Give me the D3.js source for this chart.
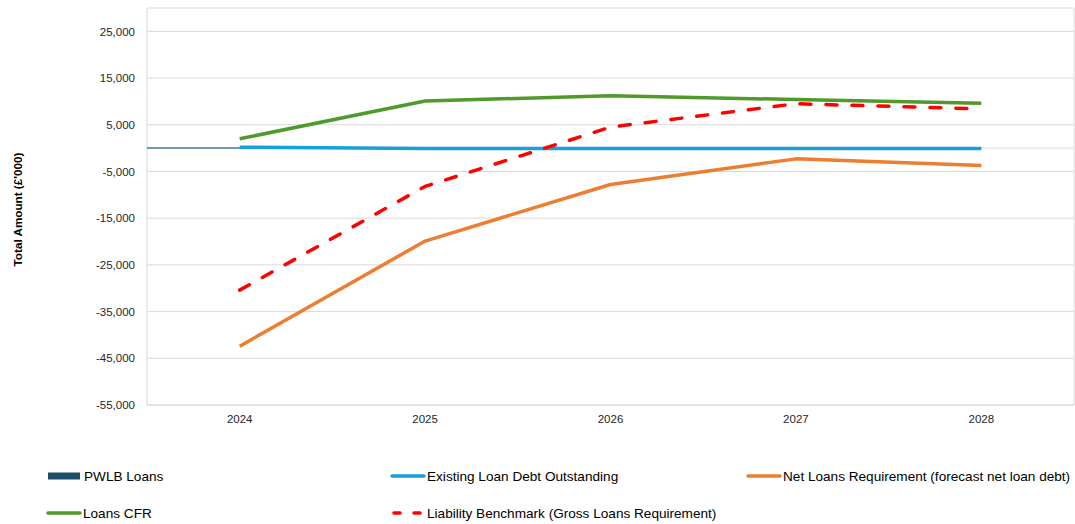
<!DOCTYPE html>
<html>
<head>
<meta charset="utf-8">
<script src="https://cdn.jsdelivr.net/npm/d3@7"></script>
<style>
  body { margin: 0; background: #fff; }
  svg { font-family: "Liberation Sans", Arial, sans-serif; }
</style>
</head>
<body>
<svg id="svg" width="1075" height="524"></svg>
<script>
// chart values
const years = ['2024', '2025', '2026', '2027', '2028'];
const pwlbLoans = [0, 0, 0, 0, 0];
const existingDebt = [200, -100, -100, -100, -100];
const netLoansReq = [-42400, -19900, -7800, -2300, -3700];
const loansCFR = [2000, 10100, 11200, 10400, 9600];
const liabilityBenchmark = [-30400, -8200, 4500, 9500, 8400];
const yTicks = [-55000, -45000, -35000, -25000, -15000, -5000, 5000, 15000, 25000];

const margin = {left: 147, right: 1074, top: 8, bottom: 405};
const svg = d3.select('#svg');

let x = d3.scaleBand()
    .domain(years)
    .range([margin.left, margin.right]);
let y = d3.scaleLinear()
    .domain([-55000, 30000])
    .range([margin.bottom, margin.top]);

// gridlines
svg.append('g')
    .selectAll('line')
    .data(yTicks)
    .join('line')
    .attr('x1', margin.left)
    .attr('x2', margin.right)
    .attr('y1', d => y(d))
    .attr('y2', d => y(d))
    .attr('stroke', '#d9d9d9')
    .attr('stroke-width', 1);

// plot border
svg.append('rect')
    .attr('x', margin.left)
    .attr('y', margin.top)
    .attr('width', margin.right - margin.left)
    .attr('height', margin.bottom - margin.top)
    .attr('fill', 'none')
    .attr('stroke', '#d9d9d9');

// zero axis line
svg.append('line')
    .attr('x1', margin.left)
    .attr('x2', margin.right)
    .attr('y1', y(0))
    .attr('y2', y(0))
    .attr('stroke', '#d9d9d9');

// y axis labels (plain hyphen for negatives, like the original)
let fmt = d3.format(',');
let yAxis = d3.axisLeft(y)
    .tickValues(yTicks)
    .tickFormat(d => fmt(d).replace('\u2212', '-'))
    .tickSize(0)
    .tickPadding(12);
let gy = svg.append('g')
    .attr('transform', `translate(${margin.left},0)`)
    .call(yAxis);
gy.select('.domain').remove();
gy.selectAll('text')
    .attr('font-size', 11.5)
    .attr('fill', '#262626')
    .attr('font-family', '"Liberation Sans", Arial, sans-serif');

// x axis labels
let xAxis = d3.axisBottom(x).tickSize(0).tickPadding(10);
let gx = svg.append('g')
    .attr('transform', `translate(0,${margin.bottom})`)
    .call(xAxis);
gx.select('.domain').remove();
gx.selectAll('text')
    .attr('font-size', 11.5)
    .attr('fill', '#262626')
    .attr('font-family', '"Liberation Sans", Arial, sans-serif');

// y axis title
svg.append('text')
    .attr('transform', `translate(22,${(margin.top + margin.bottom) / 2 + 3}) rotate(-90)`)
    .attr('text-anchor', 'middle')
    .attr('font-size', 11.7)
    .attr('font-weight', 'bold')
    .attr('fill', '#000')
    .text("Total Amount (£'000)");

const cx = d => x(d) + x.bandwidth() / 2;

// PWLB loans sit on zero from the left edge of the plot
let pwlbPts = [[margin.left, y(pwlbLoans[0])]]
    .concat(years.map((yr, i) => [cx(yr), y(pwlbLoans[i])]));
svg.append('path')
    .attr('d', d3.line()(pwlbPts))
    .attr('fill', 'none')
    .attr('stroke', '#4d7f96')
    .attr('stroke-width', 1.5);

let series = [
    {name: 'Existing Loan Debt Outstanding', values: existingDebt, color: '#1aa0d8', dash: null},
    {name: 'Net Loans Requirement (forecast net loan debt)', values: netLoansReq, color: '#ed7d31', dash: null},
    {name: 'Loans CFR', values: loansCFR, color: '#4f9a2a', dash: null},
    {name: 'Liability Benchmark (Gross Loans Requirement)', values: liabilityBenchmark, color: '#ff0000', dash: '11,15'}
];

let line = d3.line()
    .x((d, i) => cx(years[i]))
    .y(d => y(d));

series.forEach(s => {
    svg.append('path')
        .attr('d', line(s.values))
        .attr('fill', 'none')
        .attr('stroke', s.color)
        .attr('stroke-width', 3.5)
        .attr('stroke-linecap', s.dash ? 'round' : 'butt')
        .attr('stroke-linejoin', 'round')
        .attr('stroke-dasharray', s.dash);
});

// legend
let legend = [
    {name: 'PWLB Loans', color: '#1f4e6b', type: 'bar', x: 48, y: 476},
    {name: 'Existing Loan Debt Outstanding', color: '#1aa0d8', type: 'line', x: 392, y: 476},
    {name: 'Net Loans Requirement (forecast net loan debt)', color: '#ed7d31', type: 'line', x: 748, y: 476},
    {name: 'Loans CFR', color: '#4f9a2a', type: 'line', x: 48, y: 513},
    {name: 'Liability Benchmark (Gross Loans Requirement)', color: '#ff0000', type: 'dash', x: 392, y: 513}
];

legend.forEach(l => {
    let g = svg.append('g').attr('transform', `translate(${l.x},${l.y})`);
    if (l.type === 'bar') {
        g.append('rect')
            .attr('x', 0).attr('y', -3.5)
            .attr('width', 32).attr('height', 7)
            .attr('fill', l.color);
    } else {
        g.append('line')
            .attr('x1', l.type === 'dash' ? 2 : 0).attr('x2', l.type === 'dash' ? 28 : 32)
            .attr('y1', 0).attr('y2', 0)
            .attr('stroke', l.color)
            .attr('stroke-width', 3.5)
            .attr('stroke-linecap', 'round')
            .attr('stroke-dasharray', l.type === 'dash' ? '6,14' : null);
    }
    g.append('text')
        .attr('x', l.type === 'bar' ? 36 : 35)
        .attr('y', 0)
        .attr('dy', '0.35em')
        .attr('font-size', 13.6)
        .attr('fill', '#000')
        .text(l.name);
});
</script>
</body>
</html>
